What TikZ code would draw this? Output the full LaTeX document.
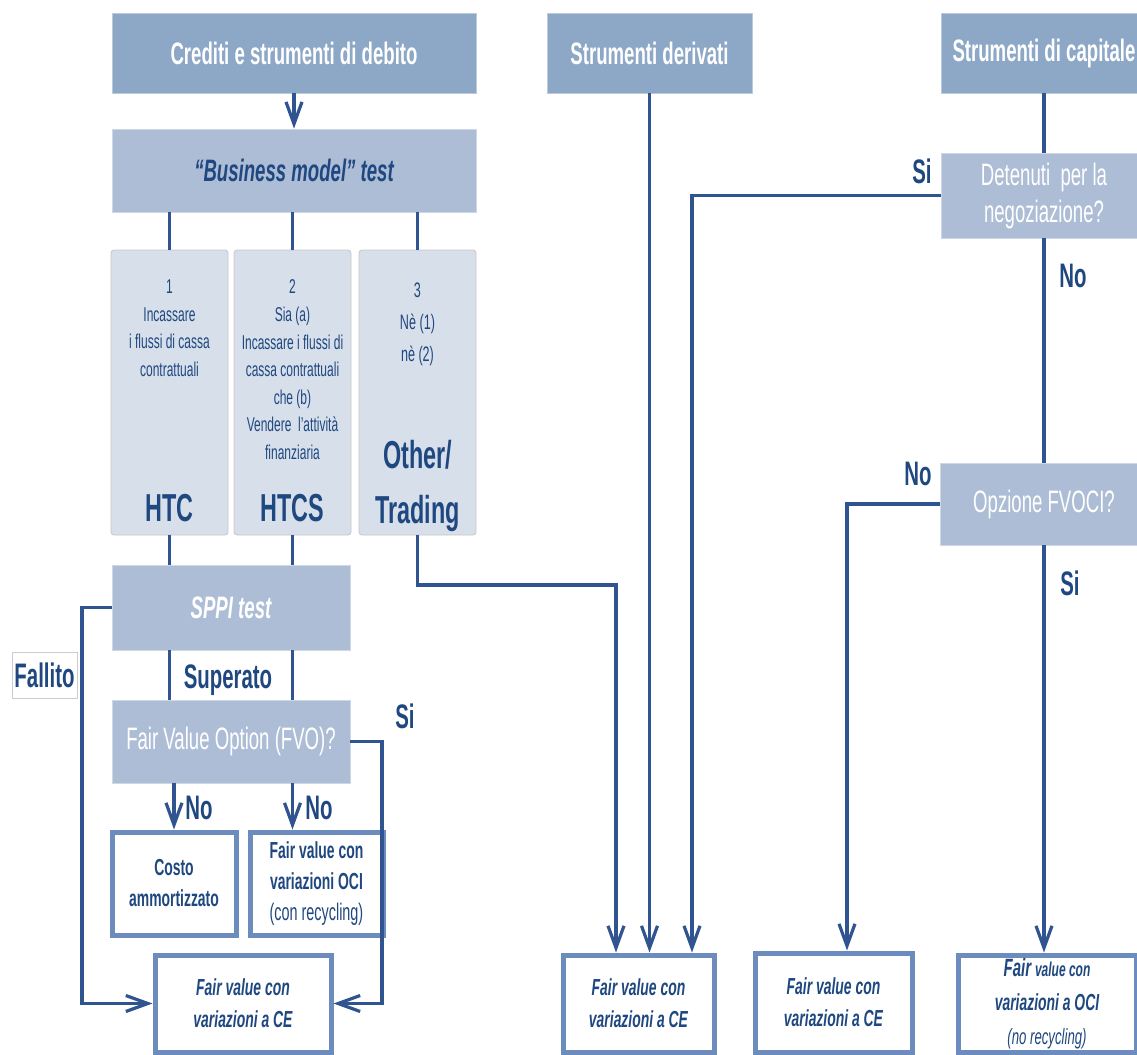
\documentclass[tikz,border=0pt]{standalone}
\usepackage{fontspec}
\setmainfont{Liberation Sans}[FakeStretch=0.6]
\usetikzlibrary{arrows.meta,calc}

\definecolor{hdrblue}{RGB}{141,167,199}
\definecolor{testblue}{RGB}{173,189,214}
\definecolor{colblue}{RGB}{215,223,234}
\definecolor{lineblue}{RGB}{47,84,143}
\definecolor{txtblue}{RGB}{31,72,128}
\definecolor{edgeblue}{RGB}{108,140,189}

\tikzset{
  hdr/.style={fill=hdrblue, draw=hdrblue!60!white, line width=0.4pt, text=white,
    font=\fontsize{15.5}{18}\selectfont\bfseries, inner sep=0pt},
  testbox/.style={fill=testblue, draw=testblue!60!white, line width=0.4pt, text=white,
    font=\fontsize{15.5}{18.5}\selectfont, align=center, inner sep=0pt},
  colbox/.style={fill=colblue, draw=black!22, line width=0.4pt, rounded corners=1.5pt,
    minimum width=58.5pt, minimum height=142.5pt, inner sep=0pt},
  coltxt/.style={text=txtblue, font=\fontsize{10}{13.8}\selectfont, align=center, inner sep=0pt},
  bigtxt/.style={text=txtblue, font=\fontsize{19.5}{27.5}\selectfont\bfseries, align=center, inner sep=0pt},
  endbox/.style={fill=white, draw=edgeblue, line width=2.5pt, text=txtblue, align=center,
    inner sep=0pt, font=\fontsize{11.6}{15.5}\selectfont\bfseries},
  lab/.style={text=txtblue, font=\fontsize{17}{20}\selectfont\bfseries, inner sep=0pt},
  conn/.style={draw=lineblue, line width=1.6pt},
  arr/.style={conn, -{Straight Barb[length=11pt,width=8pt]}},
}

\begin{document}
\begin{tikzpicture}[x=0.5pt,y=0.5pt,yscale=-1,xscale=1]
\useasboundingbox (0,0) rectangle (1137,1055);
\fill[white] (0,0) rectangle (1137,1055);

% debt instruments
\node[hdr, minimum width=182pt, minimum height=40pt] (cred) at (294,53) {Crediti e strumenti di debito};
\node[testbox, text=txtblue, font=\fontsize{15.5}{18}\selectfont\bfseries\itshape,
  minimum width=182pt, minimum height=41.5pt] (bm) at (294,170.5) {“Business model” test};

\node[colbox] (htc) at (169.5,392.5) {};
\node[colbox] (htcs) at (292.5,392.5) {};
\node[colbox] (oth) at (417.5,392.5) {};

\node[coltxt, anchor=north] (htcdesc) at ($(htc.north)+(0,30)$) {1\\Incassare\\i flussi di cassa\\contrattuali};
\node[coltxt, anchor=north] (htcsdesc) at ($(htcs.north)+(0,30)$) {2\\Sia (a)\\Incassare i flussi di\\cassa contrattuali\\che (b)\\Vendere\ \ l'attività\\finanziaria};
\node[coltxt, font=\fontsize{10.5}{16}\selectfont, anchor=north] (othdesc) at ($(oth.north)+(0,33)$) {3\\Nè (1)\\nè (2)};
\node[bigtxt, anchor=south] (htclab) at ($(htc.south)+(0,-13)$) {HTC};
\node[bigtxt, anchor=south] (htcslab) at ($(htcs.south)+(0,-13)$) {HTCS};
\node[bigtxt, anchor=south] (othlab) at ($(oth.south)+(0,-3)$) {Other/\\Trading};

\node[testbox, font=\fontsize{15.5}{18}\selectfont\bfseries\itshape,
  minimum width=119pt, minimum height=42.5pt] (sppi) at (231,607.5) {SPPI test};
\node[testbox, minimum width=119pt, minimum height=41.5pt] (fvo) at (231,741.5) {Fair Value Option (FVO)?};

\node[endbox, minimum width=62pt, minimum height=51.5pt] (costo) at (174,883.5) {Costo\\ammortizzato};
\node[endbox, minimum width=66.5pt, minimum height=51.5pt] (fvoci) at (316.5,883.5)
  {Fair value con\\variazioni OCI\\{\mdseries\fontsize{12}{15.5}\selectfont (con recycling)}};
\node[endbox, font=\fontsize{11.6}{16}\selectfont\bfseries\itshape,
  minimum width=88pt, minimum height=48.5pt] (fvce1) at (243,1003.5) {Fair value con\\variazioni a CE};

% derivatives
\node[hdr, minimum width=102.5pt, minimum height=40pt] (der) at (649.5,53) {Strumenti derivati};
\node[endbox, font=\fontsize{11.6}{16}\selectfont\bfseries\itshape,
  minimum width=75.5pt, minimum height=48.5pt] (fvce2) at (638.5,1003.5) {Fair value con\\variazioni a CE};

% equity instruments
\node[hdr, minimum width=103pt, minimum height=40pt] (cap) at (1044,53) {Strumenti di capitale};
\node[testbox, minimum width=102.5pt, minimum height=42.5pt] (det) at (1044,195.5) {Detenuti\ \ per la\\negoziazione?};
\node[testbox, minimum width=103.5pt, minimum height=41pt] (fvocq) at (1044,504) {Opzione FVOCI?};
\node[endbox, font=\fontsize{11.6}{16}\selectfont\bfseries\itshape,
  minimum width=78.5pt, minimum height=49.5pt] (fvce3) at (833.5,1002.5) {Fair value con\\variazioni a CE};
\node[endbox, font=\fontsize{11.6}{17}\selectfont\bfseries\itshape,
  minimum width=89pt, minimum height=48.5pt] (fvoci2) at (1047,1003.5)
  {{\fontsize{12.5}{17}\selectfont Fair} {\fontsize{10}{17}\selectfont value con}\\variazioni a OCI\\{\mdseries\fontsize{11}{17}\selectfont (no recycling)}};

% labels
\node[lab, draw=black!20, fill=white, line width=0.4pt, minimum width=32.5pt, minimum height=23pt] (fail) at (44.5,675) {Fallito};
\node[lab] (pass) at (228,680) {Superato};
\node[lab] (fvosi) at (405,716) {Si};
\node[lab] (costono) at (199,808) {No};
\node[lab] (ocino) at (319,808) {No};
\node[lab] (detsi) at (922,171) {Si};
\node[lab] (detno) at (1073,276) {No};
\node[lab] (optno) at (918,474) {No};
\node[lab] (optsi) at (1070,583) {Si};

% bends
\coordinate (othbend) at (616,585);
\coordinate (failbend) at (82,607.5);
\coordinate (sibend) at (382,741.5);
\coordinate (detbend) at (692,195.5);
\coordinate (optbend) at (847,504);

% connectors
\draw[arr] (cred.south) -- (bm.north);
\foreach \c in {htc,htcs,oth}
  \draw[conn] (bm.south -| \c.north) -- (\c.north);
\foreach \c in {htc,htcs} {
  \draw[conn] (\c.south) -- (\c.south |- sppi.north);
  \draw[conn] (\c.south |- sppi.south) -- (\c.south |- fvo.north);
}
\draw[arr] (oth.south) |- (othbend) -- (othbend |- fvce2.north);
\draw[arr] (sppi.west) -- (failbend) |- (fvce1.west);
\draw[arr] (fvo.east) -- (sibend) |- (fvce1.east);
\draw[arr] (fvo.south -| costo.north) -- (costo.north);
\draw[arr] (fvo.south -| htcs.south) -- (htcs.south |- fvoci.north);

\draw[arr] (der.south) -- (der.south |- fvce2.north);

\draw[conn] (cap.south) -- (det.north);
\draw[arr] (det.west) -- (detbend) -- (detbend |- fvce2.north);
\draw[conn] (det.south) -- (fvocq.north);
\draw[arr] (fvocq.west) -- (optbend) -- (optbend |- fvce3.north);
\draw[arr] (fvocq.south) -- (fvocq.south |- fvoci2.north);

\end{tikzpicture}
\end{document}
